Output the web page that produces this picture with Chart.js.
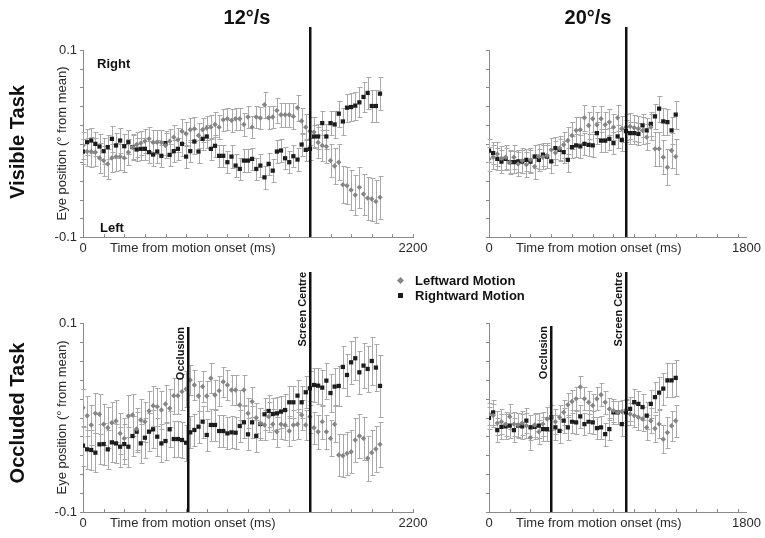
<!DOCTYPE html>
<html><head><meta charset="utf-8">
<script src="https://cdn.jsdelivr.net/npm/chart.js@4.4.1/dist/chart.umd.min.js"></script>
<style>
html,body{margin:0;padding:0;background:#fff}
body{width:765px;height:538px;position:relative;overflow:hidden;font-family:"Liberation Sans",Arial,sans-serif}
canvas{position:absolute;left:0;top:0}
.t{position:absolute;font-weight:bold;color:#111;white-space:nowrap;line-height:1}
.c{transform:translate(-50%,-50%)}
.r{transform:translate(-50%,-50%) rotate(-90deg)}
.mk{position:absolute}
</style></head>
<body>
<canvas id="p1" width="765" height="538"></canvas>
<canvas id="p2" width="765" height="538"></canvas>
<canvas id="p3" width="765" height="538"></canvas>
<canvas id="p4" width="765" height="538"></canvas>

<div class="t c" style="left:247px;top:17px;font-size:20px">12°/s</div>
<div class="t c" style="left:588px;top:17px;font-size:20px">20°/s</div>
<div class="t r" style="left:17px;top:142px;font-size:20px">Visible Task</div>
<div class="t r" style="left:17px;top:413px;font-size:20px">Occluded Task</div>
<div class="t" style="left:97px;top:57px;font-size:13px">Right</div>
<div class="t" style="left:100px;top:221px;font-size:13px">Left</div>

<div class="mk" style="left:398px;top:278px;width:5px;height:5px;background:#858585;transform:rotate(45deg)"></div>
<div class="t" style="left:415px;top:274px;font-size:13px">Leftward Motion</div>
<div class="mk" style="left:398px;top:293px;width:5px;height:5px;background:#1c1c1c"></div>
<div class="t" style="left:415px;top:289px;font-size:13px">Rightward Motion</div>

<script>
// ---- data: eye position (° from mean), one value per sample ----
const SAMPLE_MS_12 = 27.5;   // sample interval, 12°/s panels
const SAMPLE_MS_20 = 29;     // sample interval, 20°/s panels
const X_MAX_12 = 2200;
const X_MAX_20 = 1800;
const Y_TICK_LABELS = [-0.1, 0.1];
const SCREEN_CENTRE_12 = 1512.5;
const SCREEN_CENTRE_20 = 958;
const OCCLUSION_12 = 700;
const OCCLUSION_20 = 434;

// Visible task, 12°/s
const V12_LEFTWARD = [-0.0021,-0.0086,-0.0086,-0.0093,-0.0154,-0.0183,-0.0218,-0.0154,-0.0140,-0.0140,-0.0154,-0.0093,-0.0039,-0.0011,0.0004,0.0025,0.0050,0.0014,0.0014,0.0011,-0.0021,0.0025,0.0068,0.0039,0.0132,0.0104,0.0147,0.0158,0.0086,0.0147,0.0165,0.0175,0.0204,0.0175,0.0254,0.0265,0.0247,
 0.0265,0.0265,0.0204,0.0283,0.0175,0.0283,0.0272,0.0415,0.0276,0.0283,0.0354,0.0308,0.0308,0.0308,0.0290,0.0383,0.0240,0.0175,0.0132,0.0122,0.0011,-0.0021,-0.0032,-0.0183,-0.0240,-0.0200,-0.0440,-0.0451,-0.0498,-0.0551,-0.0469,-0.0541,-0.0584,-0.0594,-0.0619,-0.0576];
const V12_LEFTWARD_ERR = [0.014,0.015,0.016,0.015,0.016,0.016,0.016,0.015,0.015,0.014,0.015,0.014,0.014,0.013,0.013,0.013,0.013,0.013,0.013,0.013,0.013,0.013,0.013,0.013,0.013,0.013,0.013,0.013,0.013,0.013,0.013,0.013,0.013,0.013,0.012,0.012,0.012,
 0.012,0.012,0.012,0.012,0.012,0.012,0.012,0.014,0.012,0.012,0.013,0.013,0.013,0.013,0.014,0.014,0.014,0.014,0.015,0.016,0.017,0.017,0.018,0.018,0.019,0.019,0.020,0.020,0.021,0.021,0.022,0.022,0.023,0.023,0.023,0.023];
const V12_RIGHTWARD = [-0.0086,0.0014,0.0032,-0.0004,-0.0032,-0.0082,-0.0039,0.0050,-0.0021,0.0032,-0.0029,0.0014,-0.0039,-0.0064,-0.0057,-0.0057,-0.0093,-0.0118,-0.0086,-0.0132,0.0004,-0.0122,-0.0082,-0.0057,-0.0004,-0.0140,-0.0082,0.0021,-0.0086,0.0050,0.0075,-0.0057,-0.0025,-0.0132,-0.0132,-0.0200,-0.0140,
 -0.0236,-0.0272,-0.0183,-0.0183,-0.0165,-0.0272,-0.0236,-0.0362,-0.0218,-0.0290,-0.0086,-0.0075,-0.0158,-0.0200,-0.0136,-0.0172,-0.0011,-0.0068,-0.0057,0.0075,0.0075,0.0218,0.0075,0.0218,0.0204,0.0319,0.0236,0.0383,0.0390,0.0405,0.0440,0.0498,0.0541,0.0401,0.0401,0.0533];
const V12_RIGHTWARD_ERR = [0.013,0.014,0.013,0.013,0.013,0.014,0.013,0.014,0.013,0.013,0.013,0.013,0.013,0.012,0.012,0.012,0.012,0.012,0.012,0.012,0.013,0.012,0.012,0.012,0.013,0.012,0.012,0.013,0.012,0.012,0.012,0.012,0.012,0.012,0.012,0.012,0.012,
 0.012,0.012,0.012,0.012,0.012,0.012,0.012,0.012,0.012,0.012,0.012,0.012,0.012,0.012,0.012,0.012,0.012,0.012,0.012,0.012,0.013,0.013,0.013,0.013,0.014,0.014,0.014,0.015,0.015,0.015,0.016,0.016,0.017,0.017,0.017,0.018];

// Visible task, 20°/s
const V20_LEFTWARD = [-0.0165,-0.0147,-0.0111,-0.0158,-0.0147,-0.0200,-0.0147,-0.0218,-0.0183,-0.0226,-0.0175,-0.0247,-0.0140,-0.0147,-0.0129,-0.0068,-0.0100,-0.0050,-0.0014,0.0032,0.0086,0.0140,0.0147,0.0276,0.0193,0.0265,0.0200,0.0265,0.0200,0.0229,0.0175,0.0276,0.0158,0.0175,0.0183,0.0168,0.0158,0.0140,0.0068,0.0175,-0.0057,-0.0057,-0.0147,-0.0254,-0.0075,-0.0140];
const V20_LEFTWARD_ERR = [0.013,0.013,0.013,0.013,0.013,0.013,0.013,0.013,0.013,0.013,0.013,0.013,0.013,0.013,0.013,0.013,0.013,0.013,0.014,0.014,0.014,0.014,0.014,0.014,0.014,0.014,0.014,0.014,0.014,0.014,0.014,0.014,0.014,0.014,0.014,0.014,0.014,0.014,0.014,0.014,0.018,0.018,0.018,0.019,0.019,0.019];
const V20_RIGHTWARD = [-0.0075,-0.0104,-0.0165,-0.0193,-0.0165,-0.0200,-0.0200,-0.0190,-0.0193,-0.0175,-0.0193,-0.0140,-0.0175,-0.0118,-0.0140,-0.0190,-0.0050,-0.0068,-0.0093,-0.0175,-0.0039,-0.0021,-0.0032,-0.0004,-0.0014,-0.0021,0.0111,0.0032,0.0032,0.0050,0.0004,0.0075,0.0039,0.0132,0.0111,0.0111,0.0104,0.0193,0.0140,0.0211,0.0290,0.0372,0.0236,0.0229,0.0140,0.0308];
const V20_RIGHTWARD_ERR = [0.012,0.012,0.012,0.012,0.012,0.012,0.012,0.012,0.012,0.012,0.012,0.012,0.012,0.012,0.012,0.013,0.012,0.012,0.012,0.013,0.012,0.012,0.012,0.012,0.012,0.012,0.012,0.012,0.012,0.012,0.012,0.012,0.012,0.012,0.012,0.012,0.012,0.012,0.013,0.013,0.013,0.014,0.014,0.014,0.014,0.015];

// Occluded task, 12°/s
const O12_LEFTWARD = [0.0104,0.0019,-0.0079,0.0044,0.0034,-0.0072,-0.0108,-0.0055,-0.0037,-0.0168,-0.0221,0.0016,0.0026,-0.0122,-0.0026,-0.0044,0.0069,0.0125,0.0115,0.0079,0.0143,0.0097,0.0231,0.0231,0.0274,0.0302,0.0397,0.0344,0.0228,0.0327,0.0228,0.0415,0.0238,0.0284,0.0379,0.0344,0.0291,
 0.0291,0.0132,0.0291,0.0044,0.0168,-0.0002,-0.0062,-0.0079,0.0009,-0.0072,-0.0150,-0.0072,-0.0079,-0.0143,-0.0079,-0.0072,0.0026,-0.0079,0.0009,-0.0108,-0.0150,-0.0044,-0.0150,-0.0221,-0.0072,-0.0397,-0.0404,-0.0380,-0.0362,-0.0238,-0.0196,-0.0221,-0.0432,-0.0372,-0.0334,-0.0284];
const O12_LEFTWARD_ERR = [0.020,0.021,0.021,0.021,0.021,0.022,0.022,0.022,0.022,0.022,0.022,0.022,0.022,0.022,0.022,0.021,0.021,0.021,0.020,0.020,0.020,0.020,0.019,0.019,0.019,0.019,0.016,0.016,0.016,0.016,0.016,0.016,0.016,0.016,0.016,0.016,0.016,
 0.016,0.016,0.016,0.016,0.016,0.016,0.016,0.016,0.016,0.016,0.016,0.016,0.016,0.016,0.016,0.016,0.016,0.016,0.017,0.017,0.018,0.018,0.018,0.019,0.019,0.022,0.023,0.023,0.023,0.023,0.023,0.023,0.024,0.024,0.024,0.024];
const O12_RIGHTWARD = [-0.0298,-0.0337,-0.0344,-0.0372,-0.0284,-0.0281,-0.0337,-0.0263,-0.0274,-0.0309,-0.0281,-0.0309,-0.0196,-0.0150,-0.0274,-0.0214,-0.0150,-0.0125,-0.0203,-0.0274,-0.0249,-0.0125,-0.0228,-0.0228,-0.0238,-0.0267,-0.0157,-0.0132,-0.0097,-0.0044,-0.0185,-0.0079,-0.0079,-0.0143,-0.0143,-0.0168,-0.0157,
 -0.0161,-0.0090,-0.0051,-0.0178,-0.0051,-0.0196,-0.0069,0.0034,0.0069,0.0037,0.0044,0.0062,0.0079,0.0161,0.0161,0.0231,0.0161,0.0267,0.0309,0.0344,0.0337,0.0316,0.0390,0.0259,0.0327,0.0334,0.0535,0.0450,0.0584,0.0627,0.0478,0.0549,0.0514,0.0598,0.0528,0.0334];
const O12_RIGHTWARD_ERR = [0.021,0.021,0.021,0.021,0.021,0.022,0.021,0.021,0.021,0.021,0.021,0.021,0.021,0.021,0.021,0.021,0.020,0.020,0.020,0.020,0.020,0.019,0.019,0.019,0.019,0.019,0.017,0.017,0.017,0.017,0.017,0.017,0.017,0.017,0.017,0.017,0.017,
 0.017,0.017,0.017,0.017,0.017,0.017,0.017,0.017,0.017,0.017,0.017,0.017,0.017,0.017,0.017,0.017,0.017,0.017,0.018,0.018,0.019,0.019,0.019,0.020,0.020,0.021,0.022,0.022,0.023,0.023,0.023,0.024,0.024,0.025,0.025,0.033];

// Occluded task, 20°/s
const O20_LEFTWARD = [0.0037,0.0020,-0.0059,-0.0045,-0.0070,0.0009,-0.0070,-0.0080,-0.0059,-0.0087,-0.0212,-0.0080,-0.0152,-0.0070,-0.0016,0.0002,-0.0045,0.0002,0.0055,0.0134,0.0170,0.0198,0.0323,0.0198,0.0162,0.0127,0.0198,0.0241,0.0162,0.0091,0.0073,0.0055,0.0062,0.0080,0.0037,0.0020,0.0002,-0.0016,-0.0105,-0.0034,-0.0116,-0.0070,-0.0230,-0.0159,-0.0087,-0.0034];
const O20_LEFTWARD_ERR = [0.012,0.012,0.013,0.013,0.013,0.013,0.013,0.013,0.013,0.013,0.013,0.013,0.013,0.013,0.013,0.013,0.013,0.013,0.013,0.013,0.012,0.012,0.012,0.012,0.012,0.012,0.012,0.012,0.012,0.012,0.012,0.012,0.012,0.012,0.012,0.012,0.013,0.013,0.013,0.013,0.014,0.015,0.015,0.016,0.016,0.017];
const O20_RIGHTWARD = [-0.0005,0.0055,-0.0134,-0.0098,-0.0095,-0.0087,-0.0134,-0.0087,-0.0095,-0.0034,-0.0105,-0.0098,-0.0087,-0.0123,-0.0123,0.0002,-0.0105,-0.0141,-0.0034,-0.0105,-0.0045,-0.0052,0.0012,-0.0070,-0.0045,-0.0052,-0.0112,-0.0105,-0.0177,-0.0123,0.0055,0.0055,-0.0070,0.0055,0.0091,0.0162,0.0145,0.0109,0.0020,0.0145,0.0216,0.0262,0.0305,0.0394,0.0394,0.0419];
const O20_RIGHTWARD_ERR = [0.012,0.013,0.013,0.013,0.013,0.013,0.013,0.013,0.013,0.013,0.013,0.013,0.013,0.013,0.013,0.013,0.013,0.013,0.013,0.013,0.012,0.012,0.012,0.012,0.012,0.012,0.012,0.012,0.012,0.012,0.012,0.012,0.013,0.013,0.013,0.014,0.014,0.014,0.014,0.015,0.016,0.017,0.017,0.018,0.018,0.019];

// ---- drawing ----
const FONT = '"Liberation Sans", Arial, sans-serif';
const TXT = '#2a2a2a';
const AXIS = '#8a8a8a';
Chart.defaults.font.family = FONT;

const deco = {
  id: 'deco',
  beforeDatasetsDraw(chart, args, o) {
    const ctx = chart.ctx, xs = chart.scales.x, ys = chart.scales.y, a = chart.chartArea;
    ctx.save();
    ctx.strokeStyle = AXIS; ctx.lineWidth = 1;
    ctx.beginPath();
    for (let k = 0; k <= 10; k++) {
      const py = Math.round(ys.getPixelForValue(-0.1 + k * 0.02)) + 0.5;
      ctx.moveTo(a.left - 3, py); ctx.lineTo(a.left, py);
    }
    for (let t = o.xTick; t <= xs.max + 1e-6; t += o.xTick) {
      const px = Math.round(xs.getPixelForValue(t)) + 0.5;
      ctx.moveTo(px, a.bottom); ctx.lineTo(px, a.bottom - 3);
    }
    ctx.stroke();
    // error bars
    ctx.strokeStyle = '#a9a9a9';
    chart.data.datasets.forEach(ds => {
      ctx.beginPath();
      ds.data.forEach((p, i) => {
        const px = Math.round(xs.getPixelForValue(p.x)) + 0.5;
        const y1 = Math.round(ys.getPixelForValue(p.y + ds.err[i])) + 0.5;
        const y2 = Math.round(ys.getPixelForValue(p.y - ds.err[i])) + 0.5;
        ctx.moveTo(px, y1); ctx.lineTo(px, y2);
        ctx.moveTo(px - 2, y1); ctx.lineTo(px + 3, y1);
        ctx.moveTo(px - 2, y2); ctx.lineTo(px + 3, y2);
      });
      ctx.stroke();
    });
    ctx.restore();
  },
  afterDatasetsDraw(chart, args, o) {
    const ctx = chart.ctx, xs = chart.scales.x, a = chart.chartArea;
    ctx.save();
    (o.lines || []).forEach(l => {
      const px = Math.round(xs.getPixelForValue(l.x));
      ctx.fillStyle = '#111';
      ctx.fillRect(px - 1, a.top - l.rise, 2.5, a.bottom - a.top + l.rise);
      if (l.label) {
        ctx.save();
        ctx.translate(px - 7, a.top - l.rise);
        ctx.rotate(-Math.PI / 2);
        ctx.font = 'bold 11px ' + FONT;
        ctx.textAlign = 'right';
        ctx.textBaseline = 'middle';
        ctx.fillStyle = '#111';
        ctx.fillText(l.label, 0, 0);
        ctx.restore();
      }
    });
    // x-axis title, inline with the tick labels
    ctx.font = '13px ' + FONT;
    ctx.fillStyle = TXT;
    ctx.textAlign = 'left';
    ctx.textBaseline = 'middle';
    ctx.fillText('Time from motion onset (ms)', a.left + 27, a.bottom + 11);
    ctx.restore();
  }
};

function panel(id, box, o) {
  const YW = 28, XH = 22;
  const pts = vals => vals.map((v, i) => ({x: i * o.step, y: v}));
  return new Chart(document.getElementById(id), {
    type: 'scatter',
    data: {datasets: [
      {label: 'Leftward Motion', data: pts(o.left), err: o.leftErr, pointStyle: 'rectRot', pointRadius: 2.7, backgroundColor: '#858585', borderWidth: 0},
      {label: 'Rightward Motion', data: pts(o.right), err: o.rightErr, pointStyle: 'rect', pointRadius: 3, backgroundColor: '#1c1c1c', borderWidth: 0}
    ]},
    options: {
      responsive: false, animation: false, devicePixelRatio: 1,
      layout: {autoPadding: false, padding: {left: box.left - YW, top: box.top, right: 765 - box.right, bottom: 538 - box.bottom - XH}},
      plugins: {legend: {display: false}, tooltip: {enabled: false},
        deco: {xTick: o.step * 5, lines: o.lines}},
      scales: {
        x: {type: 'linear', min: 0, max: o.xMax,
          grid: {display: false, drawTicks: false}, border: {color: AXIS, width: 1},
          afterFit: s => { s.height = XH; },
          afterBuildTicks: s => { s.ticks = [{value: 0}, {value: o.xMax}]; },
          ticks: {padding: 4, color: TXT, font: {size: 13}, maxRotation: 0, autoSkip: false, callback: v => String(v)}},
        y: {type: 'linear', min: -0.1, max: 0.1,
          grid: {display: false, drawTicks: false}, border: {color: AXIS, width: 1},
          afterFit: s => { s.width = YW; },
          afterBuildTicks: s => { s.ticks = Y_TICK_LABELS.map(v => ({value: v})); },
          ticks: {display: o.yLabels, padding: 6, color: TXT, font: {size: 13}, callback: v => v.toFixed(1)},
          title: {display: o.yLabels, text: 'Eye position (° from mean)', color: TXT, font: {size: 13}, padding: {top: 0, bottom: 0}}}
      }
    },
    plugins: [deco]
  });
}

panel('p1', {left: 83, top: 50, right: 413, bottom: 237}, {
  step: SAMPLE_MS_12, xMax: X_MAX_12, yLabels: true,
  left: V12_LEFTWARD, leftErr: V12_LEFTWARD_ERR, right: V12_RIGHTWARD, rightErr: V12_RIGHTWARD_ERR,
  lines: [{x: SCREEN_CENTRE_12, rise: 23}]
});
panel('p2', {left: 489, top: 50, right: 747, bottom: 237}, {
  step: SAMPLE_MS_20, xMax: X_MAX_20, yLabels: false,
  left: V20_LEFTWARD, leftErr: V20_LEFTWARD_ERR, right: V20_RIGHTWARD, rightErr: V20_RIGHTWARD_ERR,
  lines: [{x: SCREEN_CENTRE_20, rise: 23}]
});
panel('p3', {left: 83, top: 323, right: 413, bottom: 512}, {
  step: SAMPLE_MS_12, xMax: X_MAX_12, yLabels: true,
  left: O12_LEFTWARD, leftErr: O12_LEFTWARD_ERR, right: O12_RIGHTWARD, rightErr: O12_RIGHTWARD_ERR,
  lines: [{x: OCCLUSION_12, rise: -4, label: 'Occlusion'}, {x: SCREEN_CENTRE_12, rise: 51, label: 'Screen Centre'}]
});
panel('p4', {left: 489, top: 323, right: 747, bottom: 512}, {
  step: SAMPLE_MS_20, xMax: X_MAX_20, yLabels: false,
  left: O20_LEFTWARD, leftErr: O20_LEFTWARD_ERR, right: O20_RIGHTWARD, rightErr: O20_RIGHTWARD_ERR,
  lines: [{x: OCCLUSION_20, rise: -3, label: 'Occlusion'}, {x: SCREEN_CENTRE_20, rise: 51, label: 'Screen Centre'}]
});
</script>
</body></html>
